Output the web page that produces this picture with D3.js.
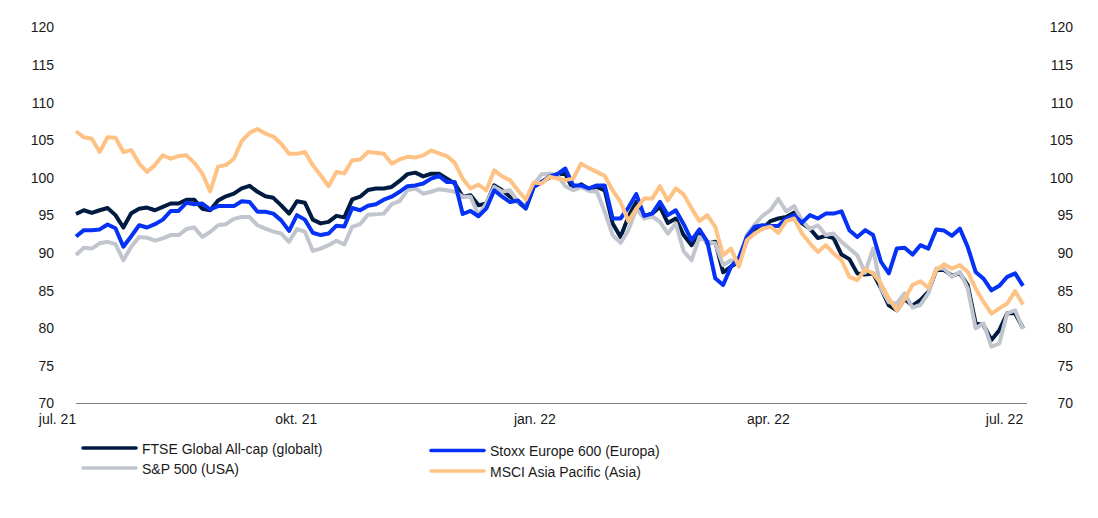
<!DOCTYPE html>
<html>
<head>
<meta charset="utf-8">
<script src="https://cdn.jsdelivr.net/npm/d3@7/dist/d3.min.js"></script>
<style>
body{margin:0;background:#fff;}
svg text{font-family:"Liberation Sans",Arial,sans-serif;font-size:14px;fill:#1a1a1a;}
</style>
</head>
<body>
<div id="chart"></div>
<script>
var seriesNames=["FTSE Global All-cap (globalt)","S&P 500 (USA)","Stoxx Europe 600 (Europa)","MSCI Asia Pacific (Asia)"];
var seriesColors=["#001b41","#c1c5cd","#0532f5","#ffc285"];
var yTicks=[70,75,80,85,90,95,100,105,110,115,120];
var xTickDates=["2021-07-01","2021-10-01","2022-01-01","2022-04-01","2022-07-01"];
var xTickLabels=["jul. 21","okt. 21","jan. 22","apr. 22","jul. 22"];

var ftse=[95.2,95.7,95.35,95.7,96,95.05,93.4,95.3,95.9,96.05,95.7,96.15,96.6,96.6,97.1,97.1,95.9,95.7,97,97.55,
97.9,98.6,98.95,98.15,97.55,97.35,96.35,95.25,96.9,96.7,94.45,93.95,94.15,94.95,94.75,97.15,97.5,98.4,98.6,98.6,98.8,
99.6,100.5,100.7,100.2,100.55,100.55,99.9,99.25,97.5,97.7,96.35,96.6,99,98.35,97.5,96.8,95.95,98.8,99.45,100.05,
100.5,100.55,98.45,99.15,98.5,98.8,98.35,93.95,92.15,94.85,96.8,94.95,95.25,96.15,94,94.6,92.4,91.05,92.85,91.3,
91.5,87.45,88.2,88.85,91.7,93.2,93.25,94.25,94.6,94.8,95.4,93.95,93.25,92,92.3,92,89.8,89.2,87.3,87.15,
87.3,85.3,83.05,82.4,83.9,83,83.75,84.85,87.75,87.75,87,87.3,85.75,80.65,80.4,78.45,79.75,82,82,80];

var sp500=[89.75,90.7,90.6,91.3,91.5,91.2,89.05,90.85,92.15,92.05,91.65,91.95,92.4,92.4,93.2,93.4,92.15,92.8,93.7,93.85,
94.55,94.8,94.8,93.7,93.25,92.85,92.6,91.5,93.2,92.85,90.3,90.6,91.05,91.65,91.15,93.5,93.85,95.1,95.15,95.25,96.5,
96.9,98.35,98.6,97.9,98.15,98.5,98.35,98.15,97.5,97.5,95.05,96.6,98.8,98.15,98.35,96.8,96.35,99.1,100.5,100.6,
100.35,98.9,98.35,98.8,98.25,98.15,95.5,92.4,91.35,93.05,95.9,94.6,94.9,94.15,92.6,93.95,90.25,89.05,92.15,91.5,
91.3,88.4,89.05,88.6,92.4,93.8,94.95,95.7,97.2,95.55,96.25,94.35,93.2,93.7,92.4,92.6,91.5,90.6,89.7,87.4,
90.6,85.3,83.45,83.3,84.65,82.75,83.1,84.65,87.95,87.95,86.85,87.5,85.3,80,80.65,77.55,78,82,82.4,79.9];

var stoxx=[92.2,93.05,93.05,93.15,93.8,93.3,90.85,92.25,93.7,93.4,93.85,94.45,95.6,95.6,96.7,96.5,96.6,95.8,96.25,96.25,
96.25,96.9,96.8,95.5,95.5,95.25,94.35,92.95,95.05,94.45,92.7,92.4,92.6,93.65,93.55,96,95.7,96.3,96.5,97.1,97.5,
98.15,98.9,99,99.25,99.9,100.25,99.45,99.45,95.2,95.6,94.9,95.95,98.35,97.5,96.8,97,95.95,98.8,99.45,100.2,
100.5,101.25,99,99,98.6,99,99,94.6,94.6,96.05,97.85,94.95,95.25,96.8,95.05,95.7,93.85,91.7,93.15,91.5,
86.65,85.75,88.2,89.35,92.15,93.5,93.7,93.6,93.6,94.6,95.05,94.05,95.05,94.6,95.25,95.25,95.55,93.05,92.15,93.05,
92.4,88.85,87.3,90.6,90.7,89.8,91.05,90.6,93.15,93,92.3,93.25,90.8,87.5,86.6,85.05,85.65,86.85,87.3,85.65];

var msci=[106.2,105.4,105.2,103.45,105.4,105.35,103.45,103.7,101.9,100.8,101.7,103,102.55,102.9,103,102,100.6,98.2,101.5,101.7,
102.55,104.9,106,106.5,105.9,105.5,104.55,103.2,103.2,103.45,101.7,100.35,98.9,100.8,100.6,102.35,102.45,103.45,103.35,103.2,101.9,
102.45,102.8,102.7,103,103.65,103.25,102.9,102,99.9,98.6,99.1,98.35,101,100.2,99.7,98.35,97.1,99.4,99.25,100.15,
99.9,99.7,99.9,101.9,101.3,100.8,100.25,98.35,96.8,94.25,95.9,97.25,97.25,98.9,97,98.6,97.8,95.95,94.25,95.05,
93.5,89.7,90.6,88.2,91.7,92.6,93.25,93.5,92.7,94.25,94.6,92.6,91.3,90.15,91.05,89.95,89.05,86.85,86.4,87.85,
87.3,85.95,83.95,82.4,83.9,85.75,86.25,85.4,87.75,88.5,87.95,88.4,87.5,85.3,83.5,81.95,82.65,83.3,84.95,83.15];

var allSeries=[ftse,sp500,stoxx,msci];

var width=1098,height=518;
var parseDate=d3.utcParse("%Y-%m-%d");
var start=parseDate("2021-07-01"),end=parseDate("2022-07-01");
var stepMs=(end-start)/(ftse.length-1);//jevnt fordelte punkter over aaret

var x=d3.scaleUtc().domain([start,end]).range([76,1023]);
var y=d3.scaleLinear().domain([70,120]).range([403.5,27.5]);

var svg=d3.select("#chart").append("svg")
	.attr("width",width)
	.attr("height",height)
	.style("display","block");

var line=d3.line()
	.x(function(d,i){return x(new Date(+start+i*stepMs));})
	.y(function(d){return y(d);});

// venstre og hoeyre akse
var yLeft=svg.append("g").attr("transform","translate(57,0)")
	.call(d3.axisLeft(y).tickValues(yTicks).tickSize(0).tickPadding(3));
var yRight=svg.append("g").attr("transform","translate(1076,0)")
	.call(d3.axisLeft(y).tickValues(yTicks).tickSize(0).tickPadding(3));
yLeft.select(".domain").remove();
yRight.select(".domain").remove();

var xAxis=svg.append("g").attr("transform","translate(0,403.5)")
	.call(d3.axisBottom(x)
		.tickValues(xTickDates.map(parseDate))
		.tickFormat(function(d,i){return xTickLabels[i];})
		.tickSize(0)
		.tickPadding(11));
xAxis.select(".domain").remove();
xAxis.selectAll("text").attr("dx",-19);

svg.append("line")
	.attr("x1",76).attr("x2",1027)
	.attr("y1",403.5).attr("y2",403.5)
	.attr("stroke","#808080")
	.attr("stroke-width",1);

svg.selectAll(".serie")
	.data(allSeries)
	.enter().append("path")
	.attr("class","serie")
	.attr("fill","none")
	.attr("stroke",function(d,i){return seriesColors[i];})
	.attr("stroke-width",4)
	.attr("stroke-linejoin","round")
	.attr("d",line);

// tegnforklaring
var legendPos=[[81,448],[81,468],[429,450.5],[429,471]];
var legend=svg.selectAll(".legend")
	.data(seriesNames)
	.enter().append("g")
	.attr("class","legend")
	.attr("transform",function(d,i){return "translate("+legendPos[i][0]+","+legendPos[i][1]+")";});
legend.append("line")
	.attr("x1",2).attr("x2",55)
	.attr("stroke",function(d,i){return seriesColors[i];})
	.attr("stroke-width",3.6)
	.attr("stroke-linecap","round");
legend.append("text")
	.attr("x",61)
	.attr("y",1.5)
	.attr("dy","0.32em")
	.text(function(d){return d;});
</script>
</body>
</html>
